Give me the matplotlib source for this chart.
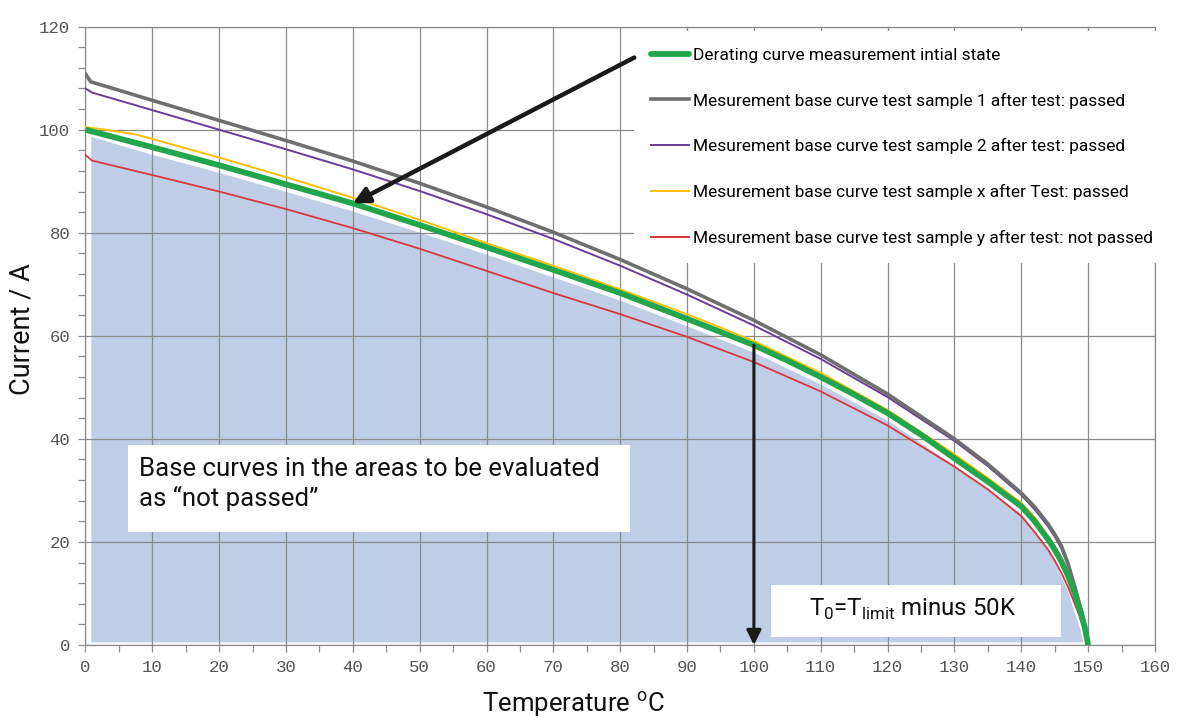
import numpy as np
import matplotlib
matplotlib.use('Agg')
import matplotlib.pyplot as plt
from matplotlib.patches import Rectangle
from matplotlib.lines import Line2D
from matplotlib.ticker import MultipleLocator

plt.rcParams['font.family'] = ['Roboto', 'DejaVu Sans']

# values
temp_green  = [0, 10, 20, 30, 40, 50, 60, 70, 80, 90, 100, 105, 110, 115, 120, 125, 130, 135, 140, 142, 144, 145, 146, 147, 148, 148.5, 149, 149.5, 150]
cur_green   = [100, 96.6, 93.1, 89.4, 85.7, 81.5, 77.2, 72.8, 68.3, 63.3, 58.2, 55.2, 52.0, 48.6, 45.0, 40.8, 36.2, 31.7, 26.9, 24.0, 20.5, 18.5, 16.2, 13.4, 10.0, 8.0, 5.8, 3.4, 0]

temp_gray   = [0, 0.8, 10, 20, 30, 40, 50, 60, 70, 80, 90, 100, 110, 120, 130, 135, 140, 142, 144, 145, 146, 147, 148, 148.5, 149, 149.5, 150]
cur_gray    = [110.8, 109.3, 105.7, 101.8, 97.9, 93.9, 89.6, 85.0, 80.1, 74.8, 69.1, 63.0, 56.3, 48.7, 40.0, 35.1, 29.5, 26.8, 23.5, 21.5, 19.2, 15.8, 11.3, 9.0, 6.5, 3.8, 0]

temp_purple = [0, 1, 10, 20, 30, 40, 50, 60, 70, 80, 90, 100, 110, 120, 130, 135, 140, 142, 144, 145, 146, 147, 148, 148.5, 149, 149.5, 150]
cur_purple  = [108.0, 107.2, 103.8, 100.0, 96.2, 92.3, 88.1, 83.6, 78.8, 73.6, 68.0, 62.0, 55.5, 48.1, 39.6, 34.7, 29.1, 26.3, 23.0, 21.0, 18.7, 15.4, 11.0, 8.8, 6.3, 3.7, 0]

temp_yellow = [0, 3, 7.5, 10, 20, 30, 40, 50, 60, 70, 80, 90, 100, 110, 120, 130, 135, 140, 142, 144, 145, 146, 147, 148, 148.5, 149, 149.5, 150]
cur_yellow  = [100.5, 100.0, 99.1, 98.2, 94.6, 90.8, 86.8, 82.5, 78.0, 73.6, 69.0, 64.2, 59.0, 52.8, 45.6, 37.0, 32.4, 27.6, 24.8, 21.2, 19.2, 16.8, 13.9, 10.4, 8.3, 6.0, 3.5, 0]

temp_red    = [0, 1, 10, 20, 30, 40, 50, 60, 70, 80, 90, 100, 110, 120, 130, 135, 140, 142, 144, 145, 146, 147, 148, 148.5, 149, 149.5, 150]
cur_red     = [95.1, 94.0, 91.2, 88.0, 84.6, 80.9, 76.9, 72.6, 68.3, 64.2, 59.8, 54.9, 49.2, 42.6, 34.6, 30.2, 25.0, 21.9, 18.5, 16.4, 14.0, 11.2, 8.0, 6.3, 4.5, 2.6, 0]

temp_fill   = [0.8, 10, 20, 30, 40, 50, 60, 70, 80, 90, 100, 110, 120, 130, 135, 140, 143.1, 145, 146.9, 148, 148.8, 149.2]
cur_fill    = [98.7, 95.2, 91.7, 88.0, 84.2, 80.1, 75.8, 71.4, 66.9, 61.9, 56.8, 50.6, 43.6, 34.8, 30.3, 25.5, 20.0, 16.2, 10.5, 6.0, 3.0, 0.6]
fill_floor  = 0.6

labels = ['Derating curve measurement intial state',
          'Mesurement base curve test sample 1 after test: passed',
          'Mesurement base curve test sample 2 after test: passed',
          'Mesurement base curve test sample x after Test: passed',
          'Mesurement base curve test sample y after test: not passed']

c_green  = '#22a64b'
c_gray   = '#6f6f6f'
c_purple = '#6a3d9a'
c_yellow = '#ffbe00'
c_red    = '#d9363e'
c_fill   = '#bfcde7'
c_grid   = '#8c8c8c'

fig = plt.figure(figsize=(11.77, 7.2), dpi=100)
ax = fig.add_axes([0.0726, 0.1042, 0.9087, 0.8588])

ax.fill_between(temp_fill, fill_floor, cur_fill, color=c_fill, lw=0, zorder=0.2)

ax.plot(temp_red, cur_red, color=c_red, lw=1.3, zorder=3)
ax.plot(temp_yellow, cur_yellow, color=c_yellow, lw=1.4, zorder=3)
ax.plot(temp_purple, cur_purple, color=c_purple, lw=1.4, zorder=3)
ax.plot(temp_gray, cur_gray, color=c_gray, lw=2.6, zorder=3)
ax.plot(temp_green, cur_green, color=c_green, lw=4.2, zorder=3.5, solid_capstyle='butt')

ax.set_xlim(0, 160)
ax.set_ylim(0, 120)
ax.xaxis.set_major_locator(MultipleLocator(10))
ax.xaxis.set_minor_locator(MultipleLocator(5))
ax.yaxis.set_major_locator(MultipleLocator(20))
ax.yaxis.set_minor_locator(MultipleLocator(4))
ax.set_axisbelow(True)
ax.grid(which='major', color=c_grid, lw=0.9)
ax.tick_params(which='both', direction='out', length=5, width=0.9, color=c_grid)
ax.tick_params(labelsize=12.5, labelcolor='#555555', pad=6)
for lab in ax.get_xticklabels() + ax.get_yticklabels():
    lab.set_family('Liberation Mono')
for s in ax.spines.values():
    s.set_color(c_grid)
    s.set_linewidth(0.9)

ax.set_xlabel('Temperature $^\\mathregular{o}$C', fontsize=18.5, color='#111111')
ax.set_ylabel('Current / A', fontsize=19.5, color='#111111')
ax.xaxis.set_label_coords(0.456, -0.071)
ax.yaxis.set_label_coords(-0.047, 0.51)

# text boxes
ax.add_patch(Rectangle((6.4, 22.0), 75.0, 16.9, facecolor='white', edgecolor='none', zorder=4))
ax.text(8.0, 31.2, 'Base curves in the areas to be evaluated\nas \u201cnot passed\u201d',
        fontsize=18.5, va='center', ha='left', linespacing=1.24, color='#111111', zorder=5)
ax.add_patch(Rectangle((102.5, 1.55), 43.4, 10.0, facecolor='white', edgecolor='none', zorder=4))
ax.text(108.3, 7.0, 'T$_\\mathregular{0}$=T$_\\mathregular{limit}$ minus 50K',
        fontsize=17.3, va='center', ha='left', color='#111111', zorder=5)

# arrows
ax.annotate('', xy=(40.0, 85.7), xytext=(82.1, 114.0),
            arrowprops=dict(arrowstyle='-|>', color='#1a1a1a', lw=3.2, mutation_scale=24,
                            shrinkA=0, shrinkB=0), zorder=6)
ax.annotate('', xy=(100, 0), xytext=(100, 58.2),
            arrowprops=dict(arrowstyle='-|>', color='#1a1a1a', lw=2.2, mutation_scale=22,
                            shrinkA=0, shrinkB=0), zorder=6)

handles = [Line2D([], [], color=c_green, lw=4.2, solid_capstyle='round'),
           Line2D([], [], color=c_gray, lw=2.6),
           Line2D([], [], color=c_purple, lw=1.4),
           Line2D([], [], color=c_yellow, lw=1.4),
           Line2D([], [], color=c_red, lw=1.4)]
leg = ax.legend(handles, labels, loc='upper left', bbox_to_anchor=(0.513, 0.993),
                fontsize=12.5, frameon=True, fancybox=False, framealpha=1,
                facecolor='white', edgecolor='none', handlelength=2.2,
                handletextpad=0.23, labelspacing=1.72, borderpad=0.95, borderaxespad=0)
leg.set_zorder(5)

fig.savefig('out.png', dpi=100)
